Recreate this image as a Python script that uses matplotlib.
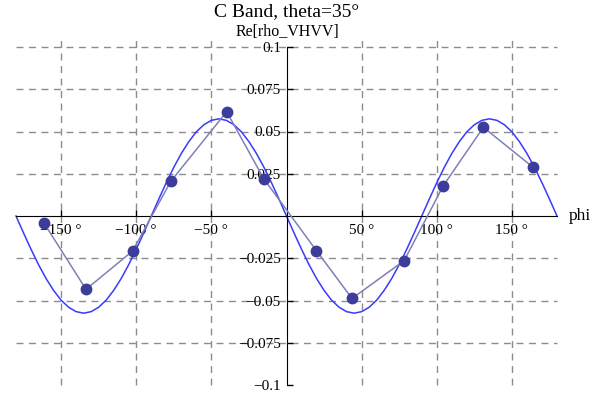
import numpy as np
import matplotlib.pyplot as plt

plt.rcParams['font.family'] = ['Liberation Serif', 'DejaVu Serif']

# medidas (puntos)
phi_med = [-161.5, -133.4, -102.4, -77.0, -39.8, -15.1, 19.9, 43.6, 78.3, 104.4, 131.0, 164.1]
val_med = [-0.004, -0.0434, -0.0207, 0.0205, 0.0617, 0.0220, -0.0205, -0.0488, -0.0264, 0.0180, 0.0525, 0.0288]

# curva del modelo, leida cada 5 grados
phi_mod = list(range(-180, 181, 5))
val_mod = [0.0, -0.0100, -0.0197, -0.0288, -0.0370, -0.0440, -0.0498, -0.0540, -0.0566,
           -0.0575, -0.0566, -0.0540, -0.0498, -0.0440, -0.0370, -0.0288, -0.0197, -0.0100,
           0.0, 0.0100, 0.0197, 0.0288, 0.0370, 0.0440, 0.0498, 0.0540, 0.0566,
           0.0575, 0.0566, 0.0540, 0.0498, 0.0440, 0.0370, 0.0288, 0.0197, 0.0100,
           0.0, -0.0100, -0.0197, -0.0288, -0.0370, -0.0440, -0.0498, -0.0540, -0.0566,
           -0.0575, -0.0566, -0.0540, -0.0498, -0.0440, -0.0370, -0.0288, -0.0197, -0.0100,
           0.0, 0.0100, 0.0197, 0.0288, 0.0370, 0.0440, 0.0498, 0.0540, 0.0566,
           0.0575, 0.0566, 0.0540, 0.0498, 0.0440, 0.0370, 0.0288, 0.0197, 0.0100, 0.0]

xticks = [-150, -100, -50, 50, 100, 150]
yticks = [-0.1, -0.075, -0.05, -0.025, 0.025, 0.05, 0.075, 0.1]
ygrid = [-0.075, -0.05, -0.025, 0.025, 0.05, 0.075, 0.1]

fig = plt.figure(figsize=(6.14, 3.99), dpi=100)
ax = fig.add_axes([16 / 614, 1 - 385 / 399, (557 - 16) / 614, (385 - 47) / 399])
ax.set_xlim(-180, 180)
ax.set_ylim(-0.1, 0.1)

# rejilla punteada
for g in ygrid:
    ax.axhline(g, color='#8c8c8c', lw=1, ls=(0, (5, 4)), zorder=0, clip_on=False)
for g in xticks:
    ax.plot([g, g], [-0.1, 0.104], color='#8c8c8c', lw=1, ls=(0, (5, 4)), zorder=0, clip_on=False)

ax.plot(phi_mod, val_mod, color='#3a3aff', lw=1.1, zorder=2, clip_on=False)
ax.plot(phi_med, val_med, color='#8080b4', lw=1.1, zorder=3,
        marker='o', ms=7.5, mfc='#3c3c9a', mec='#3c3c9a')

# ejes estilo Mathematica
for s in ['top', 'right']:
    ax.spines[s].set_visible(False)
ax.spines['bottom'].set_position(('data', 0))
ax.spines['left'].set_position(('data', 0))
ax.spines['left'].set_bounds(-0.1, 0.1)
ax.set_xticks(xticks)
ax.set_xticklabels(['\u2212150 \u00b0', '\u2212100 \u00b0', '\u221250 \u00b0',
                    '50 \u00b0', '100 \u00b0', '150 \u00b0'])
ax.set_yticks(yticks)
ax.set_yticklabels(['\u22120.1', '\u22120.075', '\u22120.05', '\u22120.025',
                    '0.025', '0.05', '0.075', '0.1'])
ax.tick_params(direction='in', length=4, width=1, labelsize=11)
ax.tick_params(axis='x', pad=6)
ax.tick_params(axis='y', pad=4)
ax.patch.set_alpha(0)

ax.text(188, 0, 'phi', fontsize=12.5, va='center', ha='left')
fig.text(287 / 614, 1 - 12 / 399, 'C Band, theta=35\u00b0', fontsize=14,
         ha='center', va='center')
fig.text(287 / 614, 1 - 32 / 399, 'Re[rho_VHVV]', fontsize=11.5,
         ha='center', va='center')

fig.savefig('out.png', dpi=100)
